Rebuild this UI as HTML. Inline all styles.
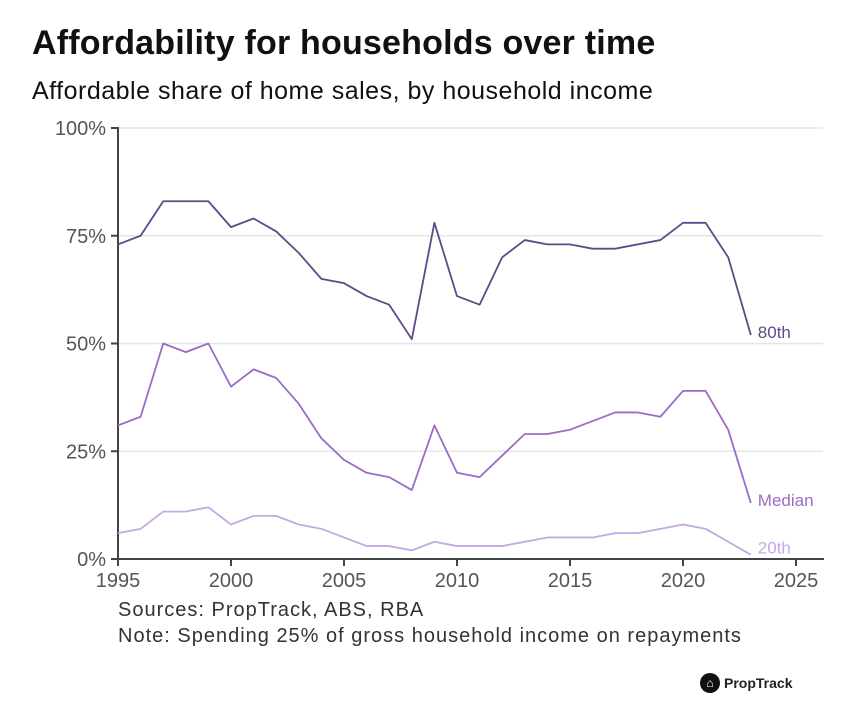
<!DOCTYPE html>
<html><head><meta charset="utf-8"><style>
body{margin:0;background:#fff;width:844px;height:720px;overflow:hidden;font-family:"Liberation Sans",sans-serif;}
.t{position:absolute;left:32px;top:24px;font-size:34px;font-weight:bold;color:#111;letter-spacing:0.2px;white-space:nowrap}
.s{position:absolute;left:32px;top:77px;font-size:25px;color:#111;letter-spacing:0.5px;white-space:nowrap}
.n{position:absolute;left:118px;font-size:20px;color:#333;letter-spacing:1px;white-space:nowrap}
</style></head><body>
<div class="t">Affordability for households over time</div>
<div class="s">Affordable share of home sales, by household income</div>
<svg id="c" width="844" height="720" style="position:absolute;left:0;top:0"></svg>
<div class="n" style="top:599px">Sources: PropTrack, ABS, RBA</div>
<div class="n" style="top:625px">Note: Spending 25% of gross household income on repayments</div>
<div style="position:absolute;left:700px;top:673px;display:flex;align-items:center;font-size:14px;font-weight:bold;color:#222"><span style="display:inline-block;width:20px;height:20px;border-radius:50%;background:#111;color:#fff;font-size:12px;text-align:center;line-height:20px;margin-right:4px">⌂</span>PropTrack</div>
<script>
const years=[1995,1996,1997,1998,1999,2000,2001,2002,2003,2004,2005,2006,2007,2008,2009,2010,2011,2012,2013,2014,2015,2016,2017,2018,2019,2020,2021,2022,2023];
const p80=[73,75,83,83,83,77,79,76,71,65,64,61,59,51,78,61,59,70,74,73,73,72,72,73,74,78,78,70,52];
const median=[31,33,50,48,50,40,44,42,36,28,23,20,19,16,31,20,19,24,29,29,30,32,34,34,33,39,39,30,13];
const p20=[6,7,11,11,12,8,10,10,8,7,5,3,3,2,4,3,3,3,4,5,5,5,6,6,7,8,7,4,1];
const xTicks=[1995,2000,2005,2010,2015,2020,2025];
const yTicks=[0,25,50,75,100];
const X=v=>118+(v-1995)*22.6, Y=v=>559-v*4.31;
const svg=document.getElementById('c'),NS='http://www.w3.org/2000/svg';
function mk(t,a,txt){const e=document.createElementNS(NS,t);for(const k in a)e.setAttribute(k,a[k]);if(txt!=null)e.textContent=txt;svg.appendChild(e);return e;}
yTicks.forEach(v=>{
 if(v>0){const g=mk('line',{x1:118,x2:823,y1:Y(v),y2:Y(v),stroke:'#e6e6e6','stroke-width':1.5});
 
 }
 const t=mk('line',{x1:111,x2:118,y1:Y(v),y2:Y(v),stroke:'#444','stroke-width':2});
 
 
 const l=mk('text',{x:106,y:Y(v)+7,'text-anchor':'end','font-size':20,fill:'#555'},v+'%');
 
 
});
xTicks.forEach(v=>{
 const t=mk('line',{x1:X(v),x2:X(v),y1:559,y2:566,stroke:'#444','stroke-width':2});
 
 
 const l=mk('text',{x:X(v),y:587,'text-anchor':'middle','font-size':20,fill:'#555'},v);
 
 
});
const ax=mk('line',{x1:118,x2:118,y1:127,y2:559,stroke:'#444','stroke-width':2});


const bx=mk('line',{x1:117,x2:824,y1:559,y2:559,stroke:'#444','stroke-width':2});


[[p80,'#5e4a86','80th','line-80th'],[median,'#9a6cc4','Median','line-median'],[p20,'#c4a8e4','20th','line-20th']].forEach(([d,c,lab,nm])=>{
 const p=mk('polyline',{points:d.map((v,i)=>X(years[i])+','+Y(v)).join(' '),fill:'none',stroke:c,'stroke-width':1.8,'stroke-linejoin':'round'});
 
 
 const last=d[d.length-1];
 const l=mk('text',{x:X(2023)+7,y:Y(last)+(lab=='20th'?-1:3),'font-size':17,fill:c},lab);
 
 
});
</script>
</body></html>
